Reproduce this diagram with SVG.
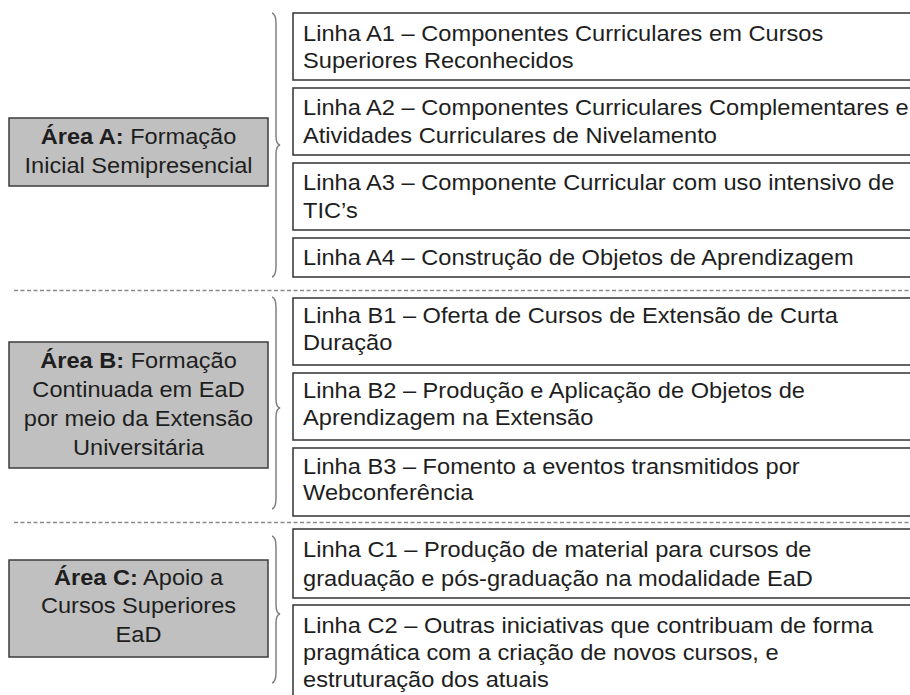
<svg xmlns="http://www.w3.org/2000/svg" width="910" height="695" viewBox="0 0 910 695">
<style>
  text { font-family: "Liberation Sans", Arial, sans-serif; font-size: 22px; fill: #1e1e1e; }
  .c { text-anchor: middle; }
  .b { font-weight: bold; }
  .area { fill: #c0c0c0; stroke: #3c3c3c; stroke-width: 1.5; }
  .line { fill: #ffffff; stroke: #333333; stroke-width: 1.5; }
  .brace { fill: none; stroke: #808080; stroke-width: 1.5; }
  .dash { stroke: #8a8a8a; stroke-width: 1.3; stroke-dasharray: 4 2.5; }
</style>
<rect x="0" y="0" width="910" height="695" fill="#ffffff"/>

<g id="connectors">
  <line class="dash" x1="14" y1="290.5" x2="910" y2="290.5"/>
  <line class="dash" x1="14" y1="522.5" x2="910" y2="522.5"/>
  <path class="brace" d="M272,13 Q276,14 276,24 L276,136 Q276,144 280,145 Q276,146 276,154 L276,266 Q276,276 272,277"/>
  <path class="brace" d="M272,297 Q276,298 276,308 L276,399 Q276,407 280,408 Q276,409 276,417 L276,498 Q276,508 272,509"/>
  <path class="brace" d="M272,536 Q276,537 276,547 L276,605 Q276,613 280,614 Q276,615 276,623 L276,672 Q276,682 272,683"/>
</g>

<g id="areaA">
  <rect class="area" x="9" y="118" width="259" height="68"/>
  <g transform="translate(138.5 0) scale(1.072 1)">
    <text class="c" y="144"><tspan class="b">Área A:</tspan> Formação</text>
    <text class="c" y="173">Inicial Semipresencial</text>
  </g>
</g>
<g id="areaB">
  <rect class="area" x="9" y="342" width="259" height="126"/>
  <g transform="translate(138.5 0) scale(1.072 1)">
    <text class="c" y="368"><tspan class="b">Área B:</tspan> Formação</text>
    <text class="c" y="397">Continuada em EaD</text>
    <text class="c" y="426">por meio da Extensão</text>
    <text class="c" y="455">Universitária</text>
  </g>
</g>
<g id="areaC">
  <rect class="area" x="9" y="560" width="259" height="97"/>
  <g transform="translate(138.5 0) scale(1.072 1)">
    <text class="c" y="585"><tspan class="b">Área C:</tspan> Apoio a</text>
    <text class="c" y="613">Cursos Superiores</text>
    <text class="c" y="642">EaD</text>
  </g>
</g>

<g id="lineA1">
  <rect class="line" x="293" y="13" width="630" height="67"/>
  <g transform="translate(303 0) scale(1.075 1)">
    <text y="41">Linha A1 – Componentes Curriculares em Cursos</text>
    <text y="68">Superiores Reconhecidos</text>
  </g>
</g>
<g id="lineA2">
  <rect class="line" x="293" y="88" width="630" height="67"/>
  <g transform="translate(303 0) scale(1.075 1)">
    <text y="115">Linha A2 – Componentes Curriculares Complementares e</text>
    <text y="143">Atividades Curriculares de Nivelamento</text>
  </g>
</g>
<g id="lineA3">
  <rect class="line" x="293" y="163" width="630" height="67"/>
  <g transform="translate(303 0) scale(1.075 1)">
    <text y="190">Linha A3 – Componente Curricular com uso intensivo de</text>
    <text y="218">TIC’s</text>
  </g>
</g>
<g id="lineA4">
  <rect class="line" x="293" y="238" width="630" height="39"/>
  <g transform="translate(303 0) scale(1.075 1)">
    <text y="265">Linha A4 – Construção de Objetos de Aprendizagem</text>
  </g>
</g>

<g id="lineB1">
  <rect class="line" x="293" y="298" width="630" height="67"/>
  <g transform="translate(303 0) scale(1.075 1)">
    <text y="323">Linha B1 – Oferta de Cursos de Extensão de Curta</text>
    <text y="350">Duração</text>
  </g>
</g>
<g id="lineB2">
  <rect class="line" x="293" y="373" width="630" height="67"/>
  <g transform="translate(303 0) scale(1.075 1)">
    <text y="398">Linha B2 – Produção e Aplicação de Objetos de</text>
    <text y="425">Aprendizagem na Extensão</text>
  </g>
</g>
<g id="lineB3">
  <rect class="line" x="293" y="448" width="630" height="68"/>
  <g transform="translate(303 0) scale(1.075 1)">
    <text y="474">Linha B3 – Fomento a eventos transmitidos por</text>
    <text y="500">Webconferência</text>
  </g>
</g>

<g id="lineC1">
  <rect class="line" x="293" y="529" width="630" height="69"/>
  <g transform="translate(303 0) scale(1.075 1)">
    <text y="557">Linha C1 – Produção de material para cursos de</text>
    <text y="586">graduação e pós-graduação na modalidade EaD</text>
  </g>
</g>
<g id="lineC2">
  <rect class="line" x="293" y="605" width="630" height="110"/>
  <g transform="translate(303 0) scale(1.075 1)">
    <text y="633">Linha C2 – Outras iniciativas que contribuam de forma</text>
    <text y="660">pragmática com a criação de novos cursos, e</text>
    <text y="687">estruturação dos atuais</text>
  </g>
</g>
</svg>
